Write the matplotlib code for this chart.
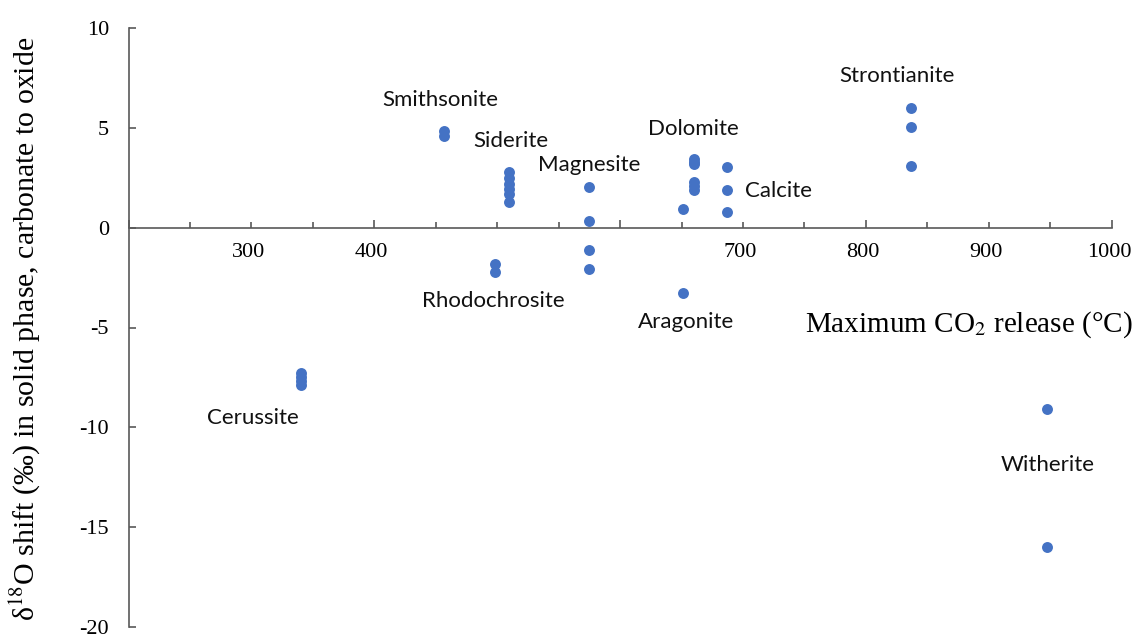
import matplotlib
matplotlib.use("Agg")
import matplotlib.pyplot as plt
import matplotlib.transforms as mtransforms

# Temperature of maximum CO2 release (°C) for each carbonate
minerals = ["Cerussite", "Smithsonite", "Rhodochrosite", "Siderite", "Magnesite",
            "Aragonite", "Dolomite", "Calcite", "Strontianite", "Witherite"]
release_temp = [340, 457, 498, 510, 575, 651, 660, 687, 837, 947]

# d18O shift (permil) measured for each carbonate
shifts = {
    "Cerussite": [-7.3, -7.5, -7.7, -7.9],
    "Smithsonite": [4.85, 4.6],
    "Rhodochrosite": [-1.8, -2.2],
    "Siderite": [2.8, 2.5, 2.2, 1.95, 1.7, 1.3],
    "Magnesite": [2.05, 0.35, -1.1, -2.05],
    "Aragonite": [0.95, -3.25],
    "Dolomite": [3.45, 3.3, 3.2, 2.3, 2.1, 1.9],
    "Calcite": [3.05, 1.9, 0.8],
    "Strontianite": [6.0, 5.05, 3.1],
    "Witherite": [-9.1, -16.0],
}

x_tick_labels = [300, 400, 700, 800, 900, 1000]
y_ticks = [-20, -15, -10, -5, 0, 5, 10]

# where each mineral name is written (data coordinates)
label_pos = {
    "Cerussite": (301, -9.55),
    "Smithsonite": (454, 6.4),
    "Rhodochrosite": (497, -3.65),
    "Siderite": (511, 4.35),
    "Magnesite": (575, 3.15),
    "Aragonite": (654, -4.7),
    "Dolomite": (660, 4.95),
    "Calcite": (729, 1.85),
    "Strontianite": (825, 7.6),
    "Witherite": (948, -11.9),
}

plt.rcParams["mathtext.fontset"] = "stix"
serif = ["Liberation Serif", "DejaVu Serif"]
axis_color = "#595959"
dot_color = "#4472C4"

fig = plt.figure(figsize=(11.38, 6.35), dpi=100)
ax = fig.add_axes([128.5 / 1138, 1 - 627 / 635, (1111.7 - 128.5) / 1138, (627 - 28) / 635])

for name, t in zip(minerals, release_temp):
    vals = shifts[name]
    ax.scatter([t] * len(vals), vals, s=62, color=dot_color, linewidths=0, zorder=3)
    lx, ly = label_pos[name]
    ax.text(lx, ly, name, ha="center", va="center", fontsize=16,
            family=["Lato", "DejaVu Sans"], color="#111111")

ax.set_xlim(200, 1000)
ax.set_ylim(-20, 10)

# axes cross at y = 0
ax.spines["top"].set_visible(False)
ax.spines["right"].set_visible(False)
ax.spines["bottom"].set_position(("data", 0))
for sp in ("left", "bottom"):
    ax.spines[sp].set_color(axis_color)
    ax.spines[sp].set_linewidth(1.2)

ax.set_xticks(range(200, 1001, 200))
ax.set_xticks(range(250, 1000, 50), minor=True)
ax.tick_params(axis="x", which="major", direction="in", length=6, width=1.2,
               color=axis_color, labelbottom=False)
ax.tick_params(axis="x", which="minor", direction="in", length=4, width=1.2,
               color=axis_color)

ax.set_yticks(y_ticks)
ax.set_yticklabels([str(v) for v in y_ticks], family=serif, fontsize=16)
ax.tick_params(axis="y", direction="in", length=5, width=1.2, color=axis_color,
               pad=14)

# temperature labels under the crossing axis
blend = mtransforms.blended_transform_factory(ax.transData, ax.transData)
for v in x_tick_labels:
    ax.annotate(str(v), xy=(v, 0), xycoords=blend, xytext=(-2, -18),
                textcoords="offset points", ha="center", va="center",
                fontsize=16, family=serif, color="black")

fig.text(1133 / 1138, 1 - 325 / 635, "Maximum CO$_2$ release (°C)", ha="right",
         va="center", fontsize=21, family=serif)
fig.text(25 / 1138, 1 - 329 / 635,
         "δ$^{18}$O shift (‰) in solid phase, carbonate to oxide",
         ha="center", va="center", rotation=90, fontsize=21.5, family=serif)

fig.savefig("out.png", dpi=100)
